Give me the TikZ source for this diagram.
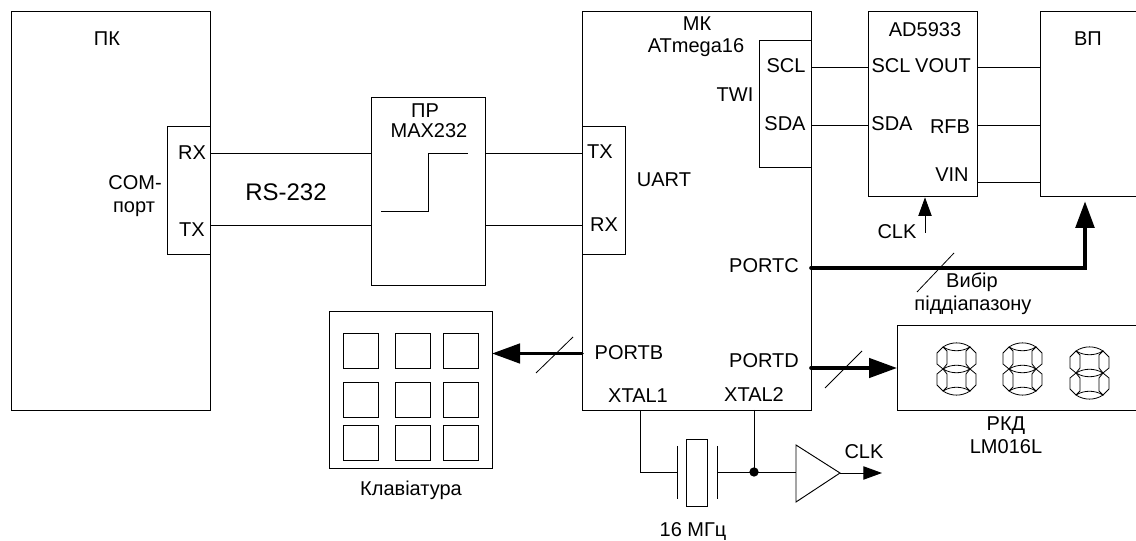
\documentclass[tikz,border=0pt]{standalone}
\usepackage{fontspec}
\setmainfont{Liberation Sans}
\usetikzlibrary{arrows.meta,calc}
\tikzset{
  box/.style={draw=black,line width=.7pt,inner sep=0pt,outer sep=0pt},
  lab/.style={inner sep=0pt,font=\fontsize{15}{17}\selectfont},
  wire/.style={draw=black,line width=.7pt},
  bus/.style={draw=black,line width=2.7pt,line cap=round},
  clktip/.style={-{Triangle[length=14pt,width=10pt]}},
  slash/.style={draw=black,line width=.6pt},
  seg/.style={draw=black,line width=.6pt},
}
\newcommand\bx[5]{\node[box,minimum width={(#4-#2)*.75pt},minimum height={(#5-#3)*.75pt}] (#1) at ({(#2+#4)/2},{(#3+#5)/2}) {};}
\newcommand\dgt[2]{\begin{scope}[shift={(#1,#2)}]
  \draw[seg] (6,4) .. controls (14,-1.5) and (25,-1.5) .. (33,4) .. controls (25,9) and (14,9) .. (6,4);
  \draw[seg] (6,26) .. controls (14,21) and (25,21) .. (33,26) .. controls (25,31) and (14,31) .. (6,26);
  \draw[seg] (6,48) .. controls (14,43) and (25,43) .. (33,48) .. controls (25,53.5) and (14,53.5) .. (6,48);
  \draw[seg] (6,4) -- (0,10) -- (0,21) -- (6,26) -- (10,21) -- (10,8) -- cycle;
  \draw[seg] (33,4) -- (39,10) -- (39,21) -- (33,26) -- (29,21) -- (29,8) -- cycle;
  \draw[seg] (6,26) -- (0,31) -- (0,42) -- (6,48) -- (10,44) -- (10,31) -- cycle;
  \draw[seg] (33,26) -- (39,31) -- (39,42) -- (33,48) -- (29,44) -- (29,31) -- cycle;
\end{scope}}
\begin{document}
\begin{tikzpicture}[x=.75pt,y=-.75pt]
\useasboundingbox (0,0) rectangle (1136,541);
\clip (0,0) rectangle (1136,541);
% boxes
\bx{pk}{11}{11}{210}{410}
\bx{com}{167}{126}{210}{254}
\bx{pr}{371}{97}{485}{285}
\bx{mk}{582}{11}{811}{410}
\bx{uart}{582}{126}{625}{254}
\bx{twi}{759}{40}{811}{167}
\bx{ad}{868}{11}{977}{196}
\bx{vp}{1040}{11}{1146}{196}
\bx{disp}{897}{325}{1146}{410}
\bx{kb}{329}{311}{492}{468}
% keys
\foreach \kx/\kc in {343/a,395/b,443/c}
  \foreach \ky/\kr in {333/a,382/b,425/c}
    {\bx{key\kc\kr}{\kx}{\ky}{\kx+35}{\ky+35}}
% labels
\node[lab] (tpk) at (107,39) {ПК};
\node[lab] (tpkrx) at (192,153) {RX};
\node[lab] (tpktx) at (192,230) {TX};
\node[lab] (tcom1) at (135,183) {COM-};
\node[lab] (tcom2) at (134,209) {порт};
\node[lab,font=\fontsize{18}{20}\selectfont] (trs) at (286,192) {RS-232};
\node[lab] (tpr) at (425,111) {ПР};
\node[lab] (tmax) at (429,131) {MAX232};
\node[lab] (tmk1) at (697,24) {МК};
\node[lab] (tmk2) at (696,48) {ATmega16};
\node[lab] (ttx) at (600,152) {TX};
\node[lab] (trx) at (604,225) {RX};
\node[lab] (tuart) at (664,180) {UART};
\node[lab] (ttwi) at (735,95) {TWI};
\node[lab] (tscl) at (786,66) {SCL};
\node[lab] (tsda) at (785,124) {SDA};
\node[lab] (tad) at (925,30) {AD5933};
\node[lab] (tscl2) at (891,66) {SCL};
\node[lab] (tvout) at (943,66) {VOUT};
\node[lab] (tsda2) at (892,124) {SDA};
\node[lab] (trfb) at (950,127) {RFB};
\node[lab] (tvin) at (952,175) {VIN};
\node[lab] (tvp) at (1088,39) {ВП};
\node[lab] (tclka) at (897,232) {CLK};
\node[lab] (tportc) at (764,266) {PORTC};
\node[lab] (tportd) at (764,361) {PORTD};
\node[lab] (tportb) at (629,353) {PORTB};
\node[lab] (tx1) at (638,396) {XTAL1};
\node[lab] (tx2) at (754,395) {XTAL2};
\node[lab] (tvib) at (972,282) {Вибір};
\node[lab] (tpid) at (973,305) {піддіапазону};
\node[lab] (trkd) at (1006,426) {РКД};
\node[lab] (tlm) at (1006,447) {LM016L};
\node[lab] (tkb) at (411,490) {Клавіатура};
\node[lab] (tmhz) at (693,532) {16 МГц};
\node[lab] (tclkb) at (864,452) {CLK};
% wires
\draw[wire] (pk.east |- 0,153.5) -- (pr.west |- 0,153.5);
\draw[wire] (pk.east |- 0,225) -- (pr.west |- 0,225);
\draw[wire] (pr.east |- 0,153.5) -- (mk.west |- 0,153.5);
\draw[wire] (pr.east |- 0,225) -- (mk.west |- 0,225);
\draw[wire] (mk.east |- 0,67.5) -- (ad.west |- 0,67.5);
\draw[wire] (mk.east |- 0,125.5) -- (ad.west |- 0,125.5);
\draw[wire] (ad.east |- 0,67.5) -- (vp.west |- 0,67.5);
\draw[wire] (ad.east |- 0,125.5) -- (vp.west |- 0,125.5);
\draw[wire] (ad.east |- 0,182.5) -- (vp.west |- 0,182.5);
% step symbol in converter
\draw[wire] (381,211) -- (428,211) -- (428,153.5) -- (468,153.5);
% clock into AD5933
\coordinate (clkin) at (925,233);
\draw[wire,clktip,shorten >=1pt] (clkin) -- (clkin |- ad.south);
% buses
\draw[bus,-{Triangle[length=20pt,width=14pt]},shorten >=4pt] (mk.east |- 0,268) -| (vp.south -| 1085,0);
\draw[bus,-{Triangle[length=21pt,width=14.5pt]}] (mk.east |- 0,368) -- (disp.west |- 0,368);
\draw[bus,-{Triangle[length=21pt,width=14.5pt]}] (mk.west |- 0,353.5) -- (kb.east |- 0,353.5);
\draw[slash] (917,292) -- (954,253);
\draw[slash] (825,388) -- (862,351);
\draw[slash] (536,373) -- (573,337);
% crystal
\node[box,minimum width={20.5*.75pt},minimum height={66.5*.75pt}] (xtal) at (696.75,472.75) {};
\coordinate (pl) at (677,472);
\coordinate (pr2) at (717,472);
\coordinate (jn) at (754,472);
\coordinate (bufin) at (796,472);
\coordinate (bufout) at (840,473);
\coordinate (clkout) at (882,473);
\draw[wire] (pl |- 0,446) -- (pl |- 0,499);
\draw[wire] (pr2 |- 0,446) -- (pr2 |- 0,499);
\draw[wire] (mk.south -| 640,0) |- (pl);
\draw[wire] (pr2) -- (bufin);
\draw[wire] (mk.south -| jn) -- (jn);
\fill (jn) circle (3.5pt);
\draw[wire,line join=miter] (796,445) -- (bufout) -- (796,502) -- cycle;
\draw[wire,clktip] (bufout) -- (clkout);
% display
\dgt{937}{343}
\dgt{1003}{343}
\dgt{1070}{347}
\end{tikzpicture}
\end{document}
